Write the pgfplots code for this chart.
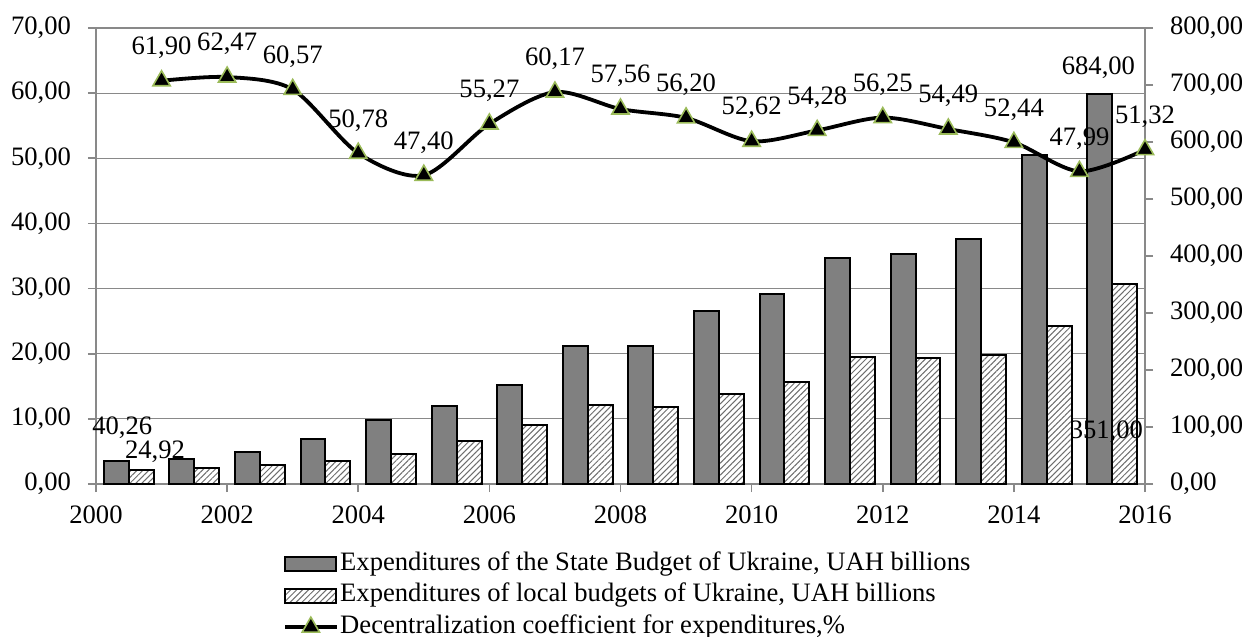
\documentclass[border=0pt]{standalone}
\usepackage{fontspec}
\setmainfont{Liberation Serif}
\usepackage{pgfplots}
\pgfplotsset{compat=1.18}
\usepackage{pgfplotstable}
\usetikzlibrary{patterns.meta}
\definecolor{barGray}{HTML}{808080}
\definecolor{axGray}{HTML}{898989}
\definecolor{mkGreen}{HTML}{9BBB59}
\definecolor{hatchGray}{HTML}{6E6E6E}

\pgfplotstableread{
year state local
2001 40.26 24.92
2002 44.4 27.5
2003 56.1 33.9
2004 79.0 40.3
2005 112.8 53.2
2006 137.0 75.4
2007 173.7 103.5
2008 241.5 138.6
2009 242.4 135.6
2010 303.6 158.4
2011 333.5 179.5
2012 395.7 222.6
2013 403.4 220.6
2014 430.2 226.2
2015 576.9 277.0
2016 684.0 351.0
}\budget

\pgfplotstableread{
year coef
2001 61.90
2002 62.47
2003 60.57
2004 50.78
2005 47.40
2006 55.27
2007 60.17
2008 57.56
2009 56.20
2010 52.62
2011 54.28
2012 56.25
2013 54.49
2014 52.44
2015 47.99
2016 51.32
}\coef

\tikzset{commafmt/.style={/pgf/number format/fixed, /pgf/number format/fixed zerofill,
  /pgf/number format/precision=2, /pgf/number format/use comma, /pgf/number format/1000 sep={}}}

\pgfplotsset{
  base/.style={scale only axis, width=524.5pt, height=228pt,
    xmin=2000, xmax=2016,
    /pgf/number format/assume math mode=true,
    tick align=outside, major tick length=4pt,
    axis line style={axGray, line width=0.8pt},
    tick style={axGray, line width=0.8pt},
  },
}

\begin{document}
\begin{tikzpicture}[font=\fontsize{13.3pt}{16pt}\selectfont]
\path[use as bounding box] (-48pt,-76.5pt) rectangle (573pt,242pt);

% axis 1: grid, left scale, x ticks
\begin{axis}[base, ymin=0, ymax=70, ytick={0,10,...,70},
  xtick={2000,2002,...,2016},
  ymajorgrids, grid style={axGray, line width=0.6pt},
  xtick pos=left, ytick pos=left,
  yticklabel style={commafmt, xshift=-5pt},
  xticklabel style={/pgf/number format/1000 sep={}, yshift=-3.5pt},
]
\addplot[draw=none] coordinates {(2000,0)};
\end{axis}

% axis 2: bars, right scale
\begin{axis}[base, ymin=0, ymax=800, ytick={0,100,...,800},
  axis y line*=right, axis x line=none,
  ybar=0pt, bar width=0.38, clip=false,
  yticklabel style={commafmt, xshift=5pt},
]
\addplot[fill=barGray, draw=black, line width=1pt]
  table[x expr=\thisrow{year}-0.5, y=state]{\budget};
\addplot[draw=black, line width=1pt, preaction={fill=white},
  pattern={Lines[angle=45,distance=2.1pt,line width=0.5pt]}, pattern color=hatchGray]
  table[x expr=\thisrow{year}-0.5, y=local]{\budget};
\node at (axis cs:2000.40,98) {40,26};
\node at (axis cs:2000.90,56) {24,92};
\node at (axis cs:2015.29,730) {684,00};
\node at (axis cs:2015.41,91) {351,00};
\end{axis}

% axis 3: line, left scale
\begin{axis}[base, ymin=0, ymax=70, hide axis, clip=false,
  legend cell align=left,
  legend style={draw=none, fill=none, at={(rel axis cs:0.1783,0)}, anchor=north west,
    yshift=-32pt, inner sep=0pt, row sep=0pt,
    nodes={inner sep=1pt, text height=10pt, text depth=3.75pt},
    /tikz/every even column/.style={column sep=0pt}},
]
\addlegendimage{legend image code/.code={\draw[fill=barGray,draw=black,line width=1pt] (0pt,-3.5pt) rectangle (25.5pt,3.5pt);}}
\addlegendentry{Expenditures of the State Budget of Ukraine, UAH billions}
\addlegendimage{legend image code/.code={\draw[preaction={fill=white}, pattern={Lines[angle=45,distance=2.1pt,line width=0.5pt]}, pattern color=hatchGray, draw=black, line width=1pt] (0pt,-3.5pt) rectangle (25.5pt,3.5pt);}}
\addlegendentry{Expenditures of local budgets of Ukraine, UAH billions}
\addplot[black, line width=1.9pt, smooth, mark=triangle*, mark size=5pt,
  mark options={fill=black, draw=mkGreen, line width=0.8pt, solid},
  nodes near coords,
  every node near coord/.append style={commafmt, anchor=center, yshift=16.5pt, black},
  legend image code/.code={\draw[mark repeat=2,mark phase=2] plot coordinates {(0pt,0pt) (12.75pt,0pt) (25.5pt,0pt)};},
] table[x=year, y=coef]{\coef};
\addlegendentry{Decentralization coefficient for expenditures,\%}
\end{axis}
\end{tikzpicture}
\end{document}
